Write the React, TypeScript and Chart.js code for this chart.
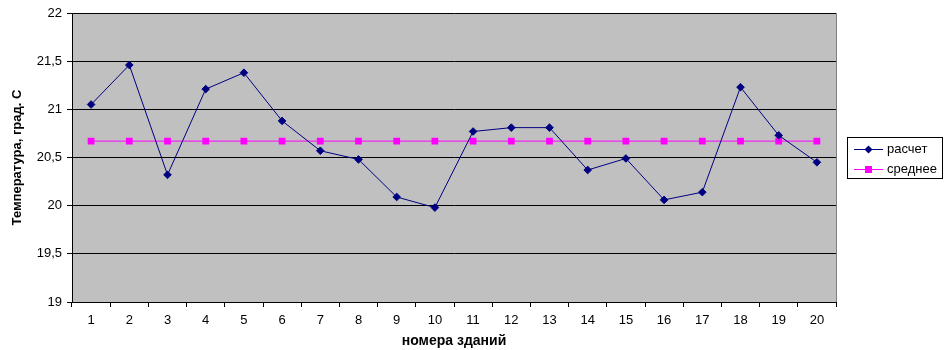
import { useEffect, useRef } from 'react';
import { Chart, registerables } from 'chart.js';

Chart.register(...registerables);

// Building numbers along the x axis
const buildings = ['1', '2', '3', '4', '5', '6', '7', '8', '9', '10', '11', '12', '13', '14', '15', '16', '17', '18', '19', '20'];

// Calculated temperature per building, °C
const calculated = [21.05, 21.46, 20.32, 21.21, 21.38, 20.88, 20.57, 20.48, 20.09, 19.98, 20.77, 20.81, 20.81, 20.37, 20.49, 20.06, 20.14, 21.23, 20.73, 20.45];

// Average temperature over all buildings, °C
const average = [20.67, 20.67, 20.67, 20.67, 20.67, 20.67, 20.67, 20.67, 20.67, 20.67, 20.67, 20.67, 20.67, 20.67, 20.67, 20.67, 20.67, 20.67, 20.67, 20.67];

const seriesNames = ['расчет', 'среднее'];
const xTitle = 'номера зданий';
const yTitle = 'Температура, град. С';

const NAVY = '#000080';
const MAGENTA = '#FF00FF';
const FONT = '"Liberation Sans", Arial, sans-serif';

// Grey plot background and grey frame on the right edge
const plotFrame = {
  id: 'plotFrame',
  beforeDraw(chart: any) {
    const { ctx, chartArea: a } = chart;
    ctx.save();
    ctx.fillStyle = '#C0C0C0';
    ctx.fillRect(a.left, a.top, a.right - a.left, a.bottom - a.top);
    ctx.restore();
  },
  beforeDatasetsDraw(chart: any) {
    const { ctx, chartArea: a } = chart;
    ctx.save();
    ctx.strokeStyle = '#808080';
    ctx.lineWidth = 1;
    ctx.beginPath();
    ctx.moveTo(Math.round(a.right) + 0.5, a.top);
    ctx.lineTo(Math.round(a.right) + 0.5, a.bottom);
    ctx.stroke();
    ctx.restore();
  },
};

// Boxed legend on the right side
const boxLegend = {
  id: 'boxLegend',
  afterDraw(chart: any) {
    const { ctx } = chart;
    const x = 847.5;
    const y = 137.5;
    const w = 95;
    const h = 41;
    ctx.save();
    ctx.fillStyle = '#FFFFFF';
    ctx.fillRect(x, y, w, h);
    ctx.strokeStyle = '#000000';
    ctx.lineWidth = 1;
    ctx.strokeRect(x, y, w, h);

    const rows = [
      { name: seriesNames[0], color: NAVY, shape: 'diamond', cy: 149 },
      { name: seriesNames[1], color: MAGENTA, shape: 'square', cy: 169 },
    ];
    ctx.font = `13px ${FONT}`;
    ctx.textBaseline = 'middle';
    ctx.textAlign = 'left';
    for (const r of rows) {
      ctx.strokeStyle = r.color;
      ctx.fillStyle = r.color;
      ctx.beginPath();
      ctx.moveTo(854, r.cy + 0.5);
      ctx.lineTo(883, r.cy + 0.5);
      ctx.stroke();
      const cx = 868.5;
      const cy = r.cy + 0.5;
      ctx.beginPath();
      if (r.shape === 'diamond') {
        ctx.moveTo(cx, cy - 4);
        ctx.lineTo(cx + 4, cy);
        ctx.lineTo(cx, cy + 4);
        ctx.lineTo(cx - 4, cy);
        ctx.closePath();
      } else {
        ctx.rect(cx - 3.5, cy - 3.5, 7, 7);
      }
      ctx.fill();
      ctx.fillStyle = '#000000';
      ctx.fillText(r.name, 887, r.cy + 0.5);
    }
    ctx.restore();
  },
};

export default function App() {
  const canvasRef = useRef<HTMLCanvasElement | null>(null);

  useEffect(() => {
    if (!canvasRef.current) return;
    const chart = new Chart(canvasRef.current, {
      type: 'line',
      data: {
        labels: buildings,
        datasets: [
          {
            label: seriesNames[0],
            data: calculated,
            borderColor: NAVY,
            backgroundColor: NAVY,
            borderWidth: 1,
            pointStyle: 'rectRot',
            pointRadius: 3.8,
            pointBorderWidth: 1,
            pointBackgroundColor: NAVY,
            pointBorderColor: NAVY,
            tension: 0,
          },
          {
            label: seriesNames[1],
            data: average,
            borderColor: MAGENTA,
            backgroundColor: MAGENTA,
            borderWidth: 1,
            pointStyle: 'rect',
            pointRadius: 4.8,
            pointBorderWidth: 0,
            pointBackgroundColor: MAGENTA,
            pointBorderColor: MAGENTA,
            tension: 0,
          },
        ],
      },
      options: {
        responsive: false,
        animation: false,
        layout: { padding: { top: 13, right: 108, bottom: 0, left: 0 } },
        plugins: {
          legend: { display: false },
          tooltip: { enabled: false },
        },
        scales: {
          x: {
            type: 'category',
            offset: true,
            grid: {
              offset: true,
              drawOnChartArea: false,
              drawTicks: true,
              tickLength: 5,
              color: '#000000',
            },
            border: { display: true, color: '#000000', width: 1 },
            ticks: {
              color: '#000000',
              font: { family: FONT, size: 13 },
              padding: 6,
              maxRotation: 0,
              autoSkip: false,
            },
            title: {
              display: true,
              text: xTitle,
              color: '#000000',
              font: { family: FONT, size: 14, weight: 'bold' },
              padding: 0,
            },
            afterFit(scale: any) {
              scale.height = 48;
            },
          },
          y: {
            min: 19,
            max: 22,
            grid: {
              color: '#000000',
              tickColor: '#000000',
              tickLength: 5,
              lineWidth: 1,
            },
            border: { display: true, color: '#000000', width: 1 },
            ticks: {
              stepSize: 0.5,
              color: '#000000',
              font: { family: FONT, size: 13 },
              padding: 5,
              callback: (v: any) => String(v).replace('.', ','),
            },
            title: {
              display: true,
              text: yTitle,
              color: '#000000',
              font: { family: FONT, size: 13, weight: 'bold' },
              padding: { top: 10, bottom: 0 },
            },
            afterFit(scale: any) {
              scale.width = 72;
            },
          },
        },
      },
      plugins: [plotFrame, boxLegend],
    });
    return () => chart.destroy();
  }, []);

  return (
    <div style={{ position: 'fixed', left: 0, top: 0, width: 944, height: 350, background: '#FFFFFF' }}>
      <canvas ref={canvasRef} width={944} height={350} />
    </div>
  );
}
